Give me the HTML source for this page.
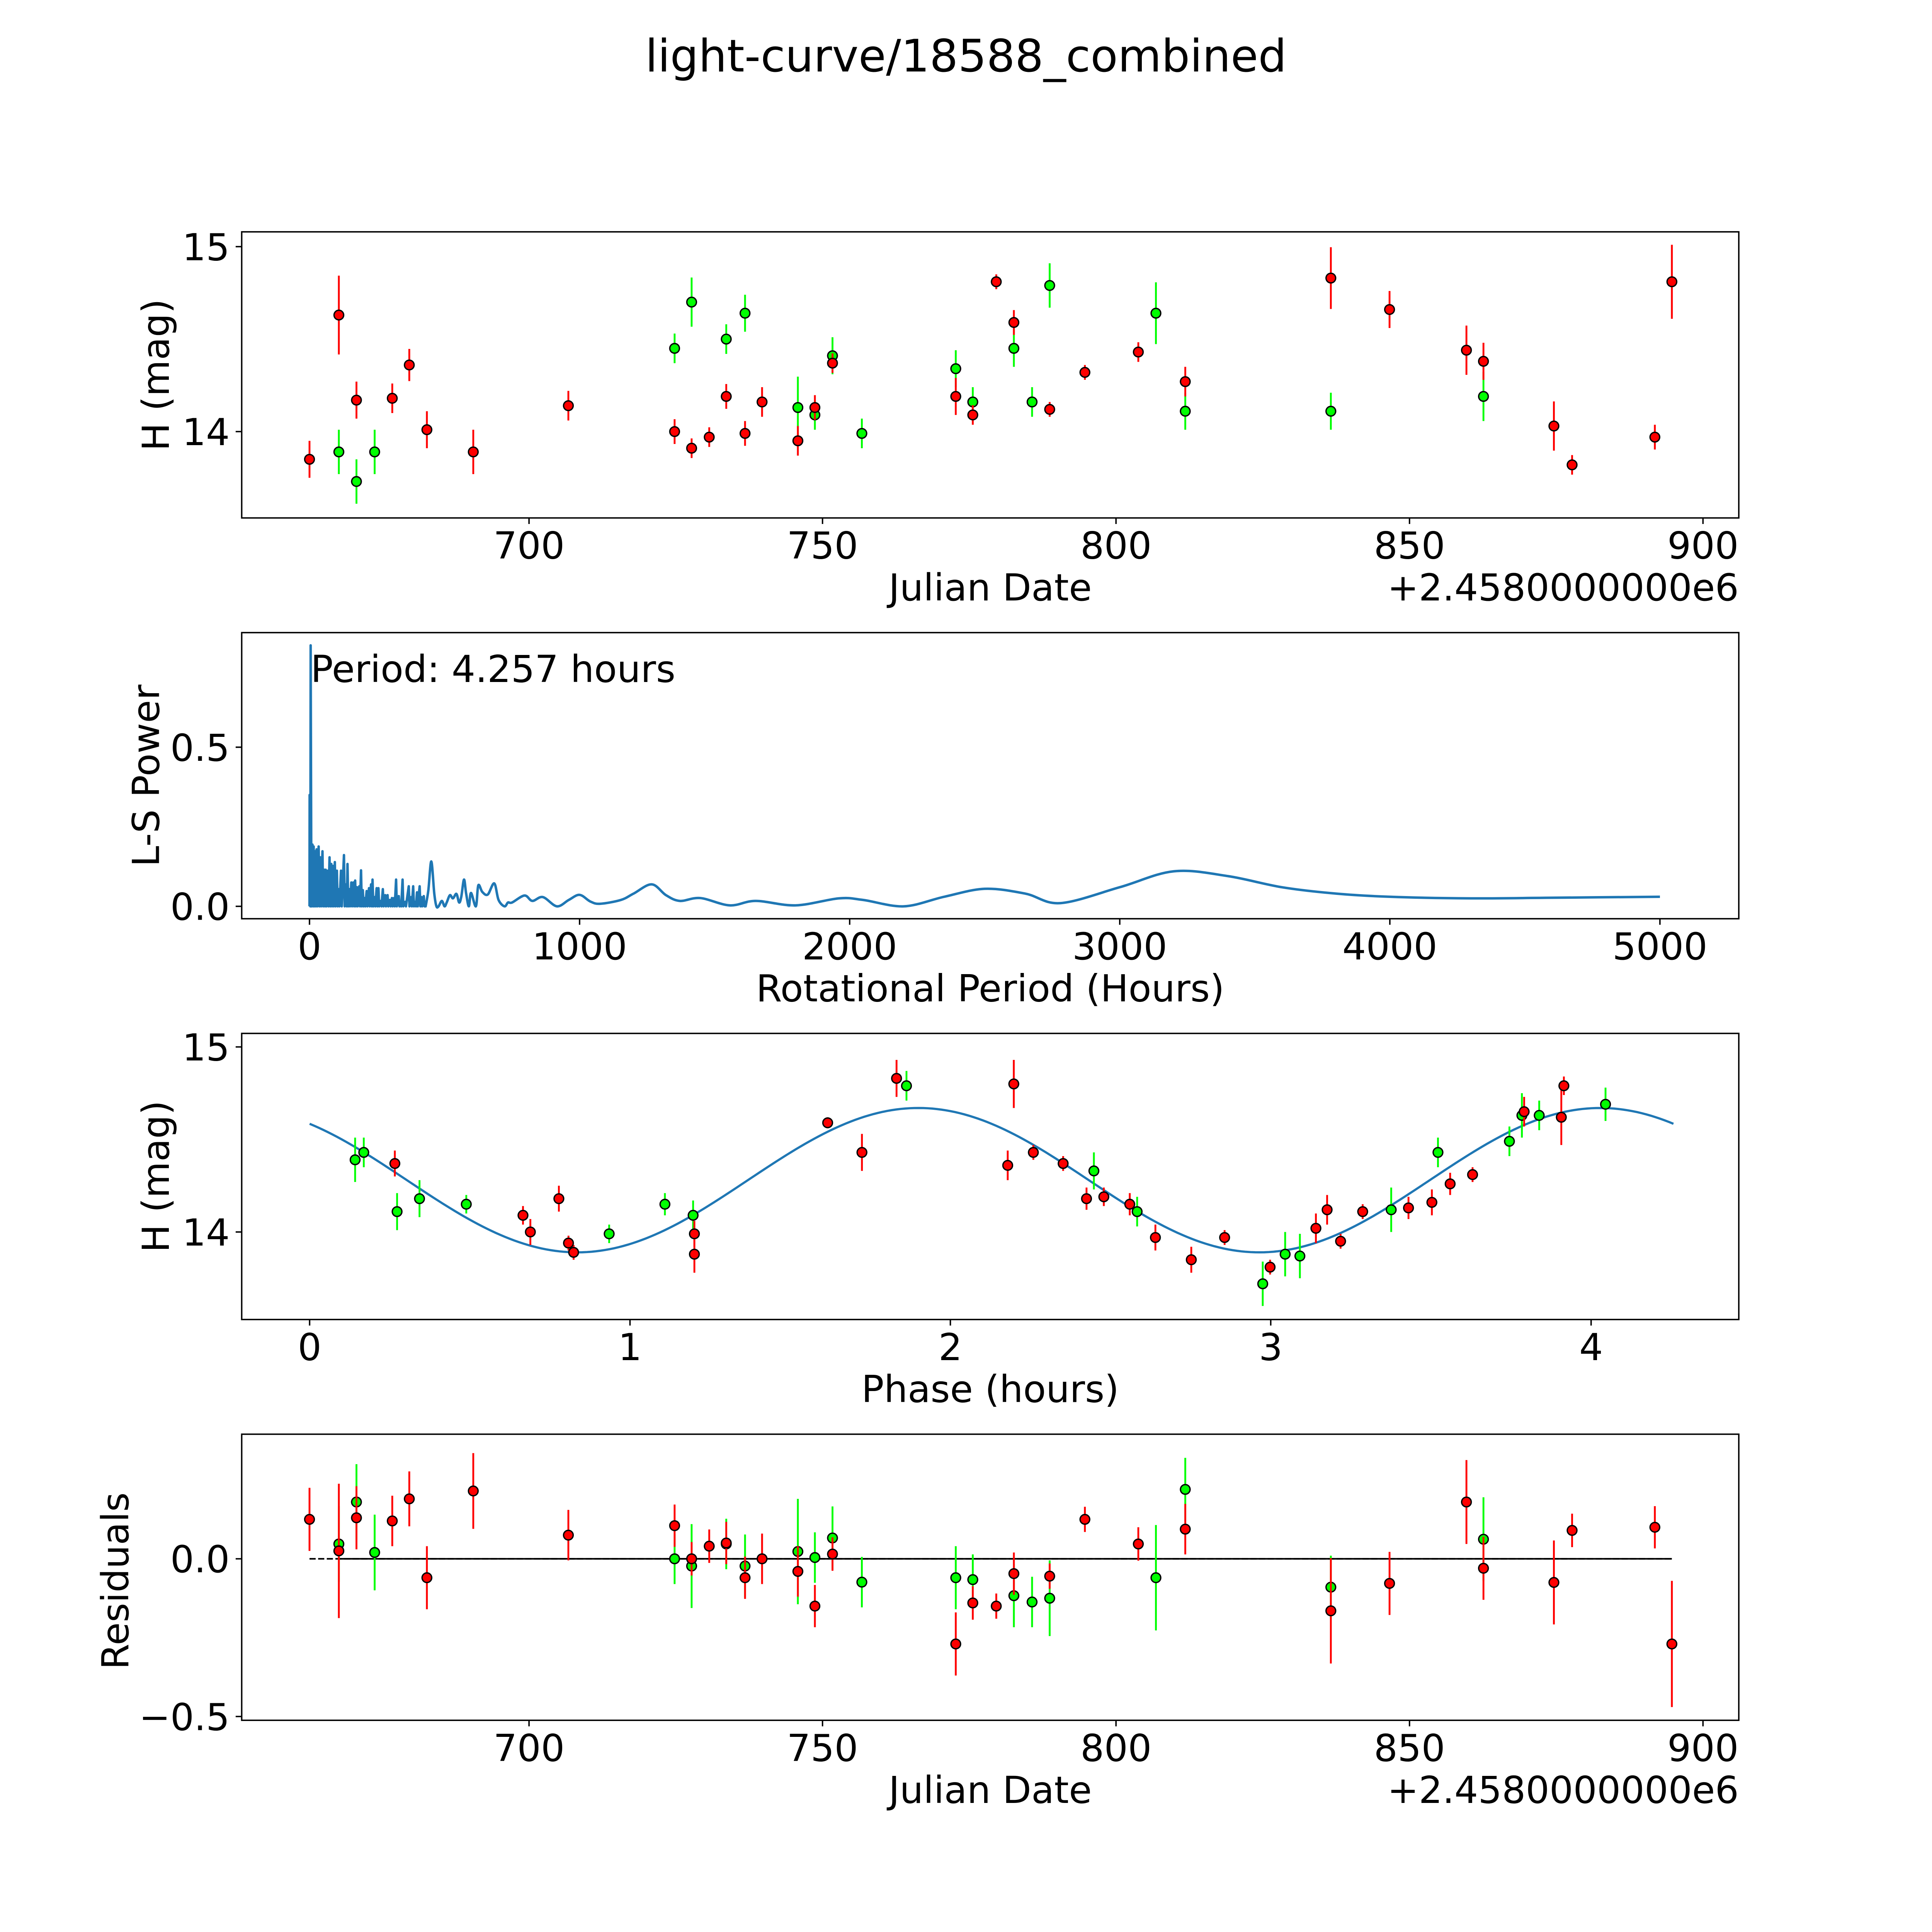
<!DOCTYPE html>
<html><head><meta charset="utf-8"><style>
html,body{margin:0;padding:0;background:#fff;overflow:hidden;width:100vw;height:100vh;}
svg{display:block;width:100vw;height:100vh;}
text{font-family:"DejaVu Sans","Liberation Sans",sans-serif;fill:#000;}
</style></head>
<body>
<svg id="fig" xmlns="http://www.w3.org/2000/svg" viewBox="0 0 1566.67 1566.67" preserveAspectRatio="none">
<rect x="0" y="0" width="1566.67" height="1566.67" fill="#fff"/>
<text x="783.3" y="58" font-size="36.3" text-anchor="middle">light-curve/18588_combined</text>
</svg>
<script>
// ---- data ----
const jdRed=[662.6,667.6,670.6,676.7,679.6,682.6,690.5,706.7,724.8,727.7,730.7,733.6,736.8,739.7,745.8,748.7,751.7,772.7,775.6,779.6,782.6,788.7,794.7,803.8,811.8,836.6,846.6,859.7,862.6,874.6,877.7,891.8,894.7];
const magRed=[13.85,14.63,14.17,14.18,14.36,14.01,13.89,14.14,14.0,13.91,13.97,14.19,13.99,14.16,13.95,14.13,14.37,14.19,14.09,14.81,14.59,14.12,14.32,14.43,14.27,14.83,14.66,14.44,14.38,14.03,13.82,13.97,14.81];
const errRed=[0.1,0.213,0.1,0.08,0.087,0.1,0.12,0.08,0.067,0.053,0.053,0.067,0.067,0.08,0.08,0.067,0.053,0.1,0.053,0.04,0.067,0.04,0.04,0.053,0.08,0.167,0.1,0.133,0.1,0.133,0.053,0.067,0.2];
const resRed=[0.125,0.025,0.13,0.12,0.19,-0.06,0.215,0.075,0.105,0.0,0.04,0.05,-0.06,0.0,-0.04,-0.15,0.015,-0.27,-0.14,-0.15,-0.047,-0.055,0.125,0.047,0.094,-0.165,-0.078,0.18,-0.03,-0.075,0.09,0.1,-0.27];
const jdGreen=[667.6,670.6,673.7,724.8,727.7,733.6,736.8,745.8,748.7,751.7,756.7,772.7,775.6,782.6,785.7,788.7,806.8,811.8,836.6,862.6];
const magGreen=[13.89,13.73,13.89,14.45,14.70,14.50,14.64,14.13,14.09,14.41,13.99,14.34,14.16,14.45,14.16,14.79,14.64,14.11,14.11,14.19];
const errGreen=[0.12,0.12,0.12,0.08,0.133,0.08,0.1,0.167,0.08,0.1,0.08,0.1,0.08,0.1,0.08,0.12,0.167,0.1,0.1,0.133];
const resGreen=[0.047,0.18,0.02,0.0,-0.023,0.047,-0.023,0.023,0.004,0.066,-0.074,-0.06,-0.066,-0.117,-0.137,-0.125,-0.06,0.22,-0.09,0.062];
const phaseGreen=[0.142,0.169,0.273,0.343,0.489,0.935,1.109,1.197,1.863,2.448,2.583,2.975,3.045,3.091,3.376,3.522,3.745,3.784,3.838,4.045];
const phaseMagGreen=[14.39,14.43,14.11,14.18,14.15,13.99,14.15,14.09,14.79,14.33,14.11,13.72,13.88,13.87,14.12,14.43,14.49,14.63,14.63,14.69];
const phaseErrGreen=[0.12,0.08,0.1,0.1,0.05,0.05,0.06,0.08,0.08,0.1,0.08,0.12,0.12,0.12,0.12,0.08,0.08,0.12,0.08,0.09];
const phaseRed=[0.266,0.666,0.689,0.778,0.808,0.824,1.201,1.201,1.617,1.724,1.832,2.179,2.198,2.259,2.352,2.425,2.479,2.560,2.640,2.752,2.856,2.998,3.141,3.176,3.218,3.287,3.430,3.503,3.560,3.630,3.791,3.907,3.915];
const phaseMagRed=[14.37,14.09,14.00,14.18,13.94,13.89,13.99,13.88,14.59,14.43,14.83,14.36,14.80,14.43,14.37,14.18,14.19,14.15,13.97,13.85,13.97,13.81,14.02,14.12,13.95,14.11,14.13,14.16,14.26,14.31,14.65,14.62,14.79];
const phaseErrRed=[0.07,0.05,0.07,0.07,0.04,0.04,0.07,0.1,0.03,0.1,0.1,0.08,0.13,0.04,0.04,0.06,0.05,0.06,0.07,0.07,0.04,0.04,0.08,0.08,0.04,0.04,0.06,0.07,0.06,0.04,0.08,0.15,0.05];
const lsNoiseP=[0.5,4.257,5.5,10.9,15.3,20.7,26.2,33.8,40.3,48.0,54.5,60.0,67.6,74.2,80.7,87.2,93.8,101.4,108.0,116.7,127.6,135.2,140.7,147.2,154.9,162.5,169.0,175.6,184.3,190.8,197.4,203.9,211.6,220.3,227.9,233.4,241.0,248.6,255.2,263.9,271.5,280.3,289.0,297.7,305.3,313.0,320.6,330.4,337.0,344.6,354.4,367.5,376.2,383.9,391.5,398.0,407.8,414.4,423.1];
const lsNoisePow=[0.35,0.82,0.204,0.194,0.188,0.173,0.179,0.188,0.154,0.173,0.115,0.115,0.112,0.154,0.133,0.127,0.139,0.112,0.054,0.112,0.161,0.069,0.133,0.054,0.075,0.075,0.081,0.060,0.063,0.113,0.051,0.026,0.048,0.057,0.069,0.084,0.029,0.057,0.057,0.017,0.054,0.035,0.035,0.020,0.026,0.026,0.084,0.032,0.014,0.084,0.014,0.063,0.029,0.063,0.014,0.044,0.063,0.029,0.032];
const lsSmoothP=[430,440,451,462,470,478,490,500,508,520,531,544,554,562,572,580,590,598,616,625,640,660,684,700,722,735,750,796,825,864,916,960,1000,1040,1076,1153,1200,1267,1320,1371,1447,1556,1652,1800,1960,2050,2200,2350,2500,2650,2780,3000,3200,3400,3600,3800,4000,4300,4600,5000];
const lsSmoothPow=[0.0,0.05,0.141,0.04,0.0,0.0,0.017,0.0,0.012,0.035,0.025,0.039,0.012,0.03,0.084,0.04,0.0,0.042,0.0,0.066,0.045,0.037,0.072,0.02,0.0,0.012,0.012,0.034,0.017,0.029,0.0,0.02,0.036,0.015,0.008,0.02,0.04,0.069,0.035,0.017,0.026,0.003,0.017,0.003,0.025,0.02,0.0,0.03,0.055,0.04,0.01,0.06,0.11,0.095,0.06,0.04,0.03,0.025,0.027,0.03];
const fitMean=[14.28];
const fitAmp=[0.39];
const fitPeakPhase=[1.9];
const periodHours=[4.257];
const jdTicks=[700,750,800,850,900];
const lsTicks=[0,1000,2000,3000,4000,5000];
const lsYTicks=[0.0,0.5];
const phaseTicks=[0,1,2,3,4];
const magTicks=[14,15];
const resTicks=[-0.5,0.0];

// ---- drawing ----
const NS='http://www.w3.org/2000/svg';
const svg=document.getElementById('fig');
const X0=196,X1=1410;
const FS=30.3;
function el(tag,attrs,parent){const e=document.createElementNS(NS,tag);for(const k in attrs)e.setAttribute(k,attrs[k]);(parent||svg).appendChild(e);return e;}
function scale(d0,d1,r0,r1){return v=>r0+(v-d0)/(d1-d0)*(r1-r0);}
function fmt1(v){return v<0?'\u2212'+Math.abs(v).toFixed(1):v.toFixed(1);}

function axesFrame(g,top,bot,name){
  const r=el('rect',{x:X0,y:top,width:X1-X0,height:bot-top,fill:'none',stroke:'#000','stroke-width':1.15},g);
  
  
}
function xTicks(g,ticks,sx,bot,fmt,name){
  ticks.forEach(t=>{
    const x=sx(t);
    const l=el('line',{x1:x,x2:x,y1:bot,y2:bot+4.9,stroke:'#000','stroke-width':1.15},g);
    
    
    const tx=el('text',{x:x,y:bot+33,'font-size':FS,'text-anchor':'middle'},g);
    tx.textContent=fmt(t);
    
    
  });
}
function yTicks(g,ticks,sy,fmt,name){
  ticks.forEach(t=>{
    const y=sy(t);
    const l=el('line',{x1:X0-4.9,x2:X0,y1:y,y2:y,stroke:'#000','stroke-width':1.15},g);
    
    
    const tx=el('text',{x:X0-9.7,y:y+11,'font-size':FS,'text-anchor':'end'},g);
    tx.textContent=fmt(t);
    
    
  });
}
function label(g,txt,x,y,rot,name,anchor){
  const t=el('text',{x:x,y:y,'font-size':FS,'text-anchor':anchor||'middle'},g);
  if(rot)t.setAttribute('transform','rotate(-90 '+x+' '+y+')');
  t.textContent=txt;
  
  
}
function errPoints(g,xs,ys,es,sx,sy,color,name){
  xs.forEach((xv,i)=>{
    const x=sx(xv);
    const b=el('line',{x1:x,x2:x,y1:sy(ys[i]-es[i]),y2:sy(ys[i]+es[i]),stroke:color,'stroke-width':1.5},g);
    
    
  });
  xs.forEach((xv,i)=>{
    const c=el('circle',{cx:sx(xv),cy:sy(ys[i]),r:3.9,fill:color,stroke:'#000','stroke-width':1.1},g);
    
    
  });
}
const GREEN='#00ff00',RED='#ff0000';

// Panel 1: light curve
(function(){
  const top=188,bot=420;
  const g=el('g',{});
  
  
  const sx=scale(651.05,906.1,X0,X1), sy=scale(13.533,15.08,bot,top);
  errPoints(g,jdGreen,magGreen,errGreen,sx,sy,GREEN,'green-observation');
  errPoints(g,jdRed,magRed,errRed,sx,sy,RED,'red-observation');
  axesFrame(g,top,bot,'light-curve');
  xTicks(g,jdTicks,sx,bot,v=>String(v),'light-curve');
  yTicks(g,magTicks,sy,v=>String(v),'light-curve');
  label(g,'Julian Date',803,487,false,'x-axis-title-julian-date');
  label(g,'+2.4580000000e6',1410,487,false,'x-axis-offset-label','end');
  label(g,'H (mag)',137,304,true,'y-axis-title-h-mag');
})();

// Panel 2: periodogram
(function(){
  const top=513,bot=745;
  const g=el('g',{});
  
  
  const sx=scale(-251,5292,X0,X1), sy=scale(-0.039,0.86,bot,top);
  let d='M'+sx(0).toFixed(2)+','+sy(0).toFixed(2);
  lsNoiseP.forEach((p,i)=>{d+=' L'+sx(p).toFixed(2)+','+sy(lsNoisePow[i]).toFixed(2)+' L'+(sx(p)+0.6).toFixed(2)+','+sy(0).toFixed(2);});
  const sp=lsSmoothP.map((p,i)=>[sx(p),sy(lsSmoothPow[i])]);
  d+=' L'+sp[0][0].toFixed(2)+','+sp[0][1].toFixed(2);
  for(let i=0;i<sp.length-1;i++){
    const p0=sp[Math.max(0,i-1)],p1=sp[i],p2=sp[i+1],p3=sp[Math.min(sp.length-1,i+2)];
    const c1=[p1[0]+(p2[0]-p0[0])/6,p1[1]+(p2[1]-p0[1])/6];
    const c2=[p2[0]-(p3[0]-p1[0])/6,p2[1]-(p3[1]-p1[1])/6];
    d+=' C'+c1[0].toFixed(2)+','+c1[1].toFixed(2)+' '+c2[0].toFixed(2)+','+c2[1].toFixed(2)+' '+p2[0].toFixed(2)+','+p2[1].toFixed(2);
  }
  const pl=el('path',{d:d,fill:'none',stroke:'#1f77b4','stroke-width':2,'stroke-linejoin':'round'},g);
  
  
  const t=el('text',{x:sx(periodHours[0]),y:553,'font-size':FS},g);
  t.textContent='Period: '+periodHours[0].toFixed(3)+' hours';
  
  
  axesFrame(g,top,bot,'periodogram');
  xTicks(g,lsTicks,sx,bot,v=>String(v),'periodogram');
  yTicks(g,lsYTicks,sy,fmt1,'periodogram');
  label(g,'Rotational Period (Hours)',803,812,false,'x-axis-title-rotational-period');
  label(g,'L-S Power',129,629,true,'y-axis-title-ls-power');
})();

// Panel 3: phase-folded
(function(){
  const top=838,bot=1070;
  const g=el('g',{});
  
  
  const sx=scale(-0.212,4.461,X0,X1), sy=scale(13.527,15.073,bot,top);
  const P=periodHours[0];
  let pts=[];
  for(let i=0;i<=300;i++){const ph=P*i/300;const m=fitMean[0]+fitAmp[0]*Math.cos(2*Math.PI*(ph-fitPeakPhase[0])/(P/2));pts.push(sx(ph).toFixed(2)+','+sy(m).toFixed(2));}
  const pl=el('polyline',{points:pts.join(' '),fill:'none',stroke:'#1f77b4','stroke-width':1.8},g);
  
  
  errPoints(g,phaseGreen,phaseMagGreen,phaseErrGreen,sx,sy,GREEN,'green-phase-point');
  errPoints(g,phaseRed,phaseMagRed,phaseErrRed,sx,sy,RED,'red-phase-point');
  axesFrame(g,top,bot,'phase');
  xTicks(g,phaseTicks,sx,bot,v=>String(v),'phase');
  yTicks(g,magTicks,sy,v=>String(v),'phase');
  label(g,'Phase (hours)',803,1137,false,'x-axis-title-phase');
  label(g,'H (mag)',137,954,true,'y-axis-title-phase-h-mag');
})();

// Panel 4: residuals
(function(){
  const top=1163,bot=1395;
  const g=el('g',{});
  
  
  const sx=scale(651.05,906.1,X0,X1), sy=scale(-0.512,0.395,bot,top);
  const allJd=jdRed.concat(jdGreen);
  const mn=Math.min.apply(null,allJd), mx=Math.max.apply(null,allJd);
  const d=el('line',{x1:sx(mn),x2:sx(mx),y1:sy(0),y2:sy(0),stroke:'#000','stroke-width':1.3,'stroke-dasharray':'5,2'},g);
  
  
  const sorted=allJd.slice().sort((a,b)=>a-b);
  const s=el('line',{x1:sx(sorted[1]),x2:sx(mx),y1:sy(0),y2:sy(0),stroke:'#000','stroke-width':1.3},g);
  
  
  errPoints(g,jdGreen,resGreen,errGreen,sx,sy,GREEN,'green-residual');
  errPoints(g,jdRed,resRed,errRed,sx,sy,RED,'red-residual');
  axesFrame(g,top,bot,'residuals');
  xTicks(g,jdTicks,sx,bot,v=>String(v),'residuals');
  yTicks(g,resTicks,sy,fmt1,'residuals');
  label(g,'Julian Date',803,1462,false,'x-axis-title-residual-julian-date');
  label(g,'+2.4580000000e6',1410,1462,false,'x-axis-offset-label-residuals','end');
  label(g,'Residuals',104,1282,true,'y-axis-title-residuals');
})();
</script>
</body></html>
